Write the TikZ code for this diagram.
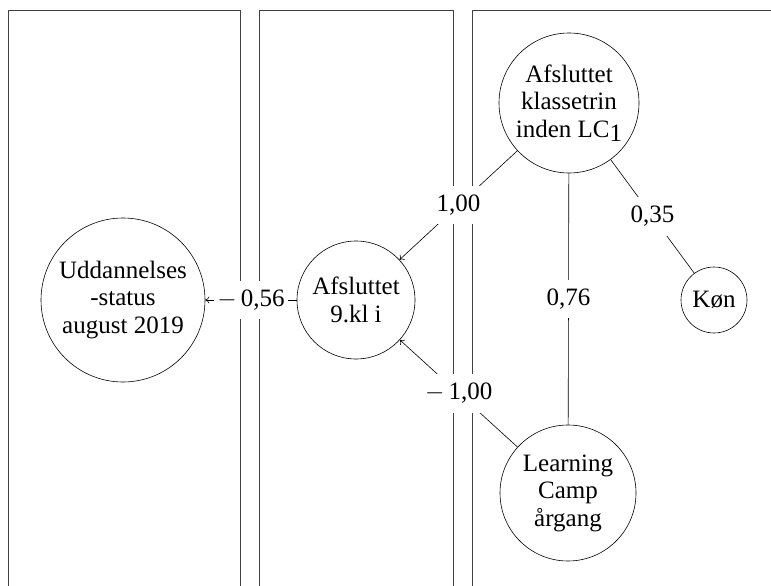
\documentclass[tikz,border=0pt]{standalone}
\usepackage{fontspec}
\setmainfont{Liberation Serif}
\usetikzlibrary{arrows.meta, positioning}
\tikzstyle{var}=[circle, draw=black, line width=0.6pt, align=center, inner sep=0pt, font=\fontsize{25}{27.5}\selectfont]
\tikzstyle{coef}=[fill=white, inner xsep=3pt, inner ysep=9pt, font=\fontsize{25}{27.5}\selectfont]
\tikzstyle{panel}=[draw=black!75, line width=0.7pt]

\begin{document}
\begin{tikzpicture}[x=1pt, y=1pt, >={To[length=4pt,width=7pt]}, line width=0.6pt]
    \useasboundingbox (0,0) rectangle (771,-586);
    % three columns, open at the bottom
    \foreach \l/\r in {8/240, 259/453, 472/790}
        \draw[panel] (\l,-600) -- (\l,-10.5) -- (\r,-10.5) -- (\r,-600);

    \node (edu) [var, minimum size=164pt] at (123,-300)
        {Uddannelses\\-status\\august 2019};
    \node (kl9) [var, minimum size=118pt, on grid, right=233pt of edu]
        {Afsluttet\\9.kl i};
    \node (klt) [var, minimum size=140pt, on grid, above right=197pt and 213pt of kl9]
        {Afsluttet\\klassetrin\\inden LC\raisebox{-4.5pt}{1}};
    \node (lc) [var, minimum size=136pt, on grid, below right=193pt and 212pt of kl9]
        {Learning\\Camp\\årgang};
    \node (kon) [var, minimum size=66pt, on grid, right=358pt of kl9]
        {Køn};

    \path[->] (klt) edge node[coef] {1,00} (kl9);
    \path[->] (lc) edge node[coef] {$-$\,1,00} (kl9);
    \path[->] (kl9) edge node[coef] {$-$\,0,56} (edu);
    \path (klt) edge node[coef] {0,76} (lc);
    \path (klt) edge node[coef] {0,35} (kon);
\end{tikzpicture}
\end{document}
